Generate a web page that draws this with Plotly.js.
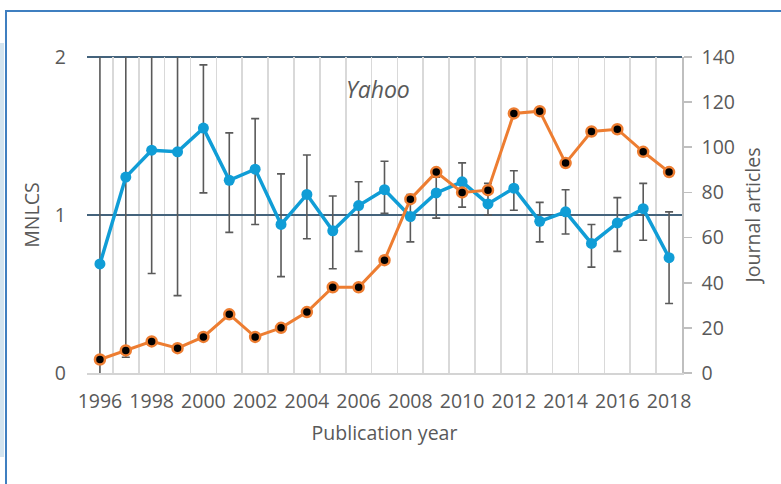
<!DOCTYPE html>
<html>
<head>
<meta charset="utf-8">
<script src="https://cdn.plot.ly/plotly-3.0.1.min.js"></script>
<style>
  html, body { margin: 0; padding: 0; background: #ffffff; overflow: hidden; }
  #wrap { position: relative; width: 781px; height: 484px; }
  #chart { position: absolute; left: 0; top: 0; width: 781px; height: 484px; }
  #strip { position: absolute; left: 0; top: 43px; width: 4px; height: 414px;
           background: #d3e4ef; pointer-events: none; }
  #frame { position: absolute; left: 5px; top: 10px; width: 800px; height: 500px;
           border-left: 2px solid #3f7fc0; border-top: 2px solid #3f7fc0;
           pointer-events: none; }
</style>
</head>
<body>
<div id="wrap">
  <div id="chart"></div>
  <div id="strip"></div>
  <div id="frame"></div>
</div>
<script>
// ---- data ----
const years = [1996, 1997, 1998, 1999, 2000, 2001, 2002, 2003, 2004, 2005, 2006, 2007,
               2008, 2009, 2010, 2011, 2012, 2013, 2014, 2015, 2016, 2017, 2018];
const mnlcs = [0.69, 1.24, 1.41, 1.40, 1.55, 1.22, 1.29, 0.94, 1.13, 0.90, 1.06, 1.16,
               0.99, 1.14, 1.21, 1.07, 1.17, 0.96, 1.02, 0.82, 0.95, 1.04, 0.73];
const ciUpper = [2.6, 2.6, 2.6, 2.6, 1.95, 1.52, 1.61, 1.26, 1.38, 1.12, 1.21, 1.34,
                 1.13, 1.24, 1.33, 1.20, 1.28, 1.08, 1.16, 0.94, 1.11, 1.20, 1.02];
const ciLower = [-0.6, 0.10, 0.63, 0.49, 1.14, 0.89, 0.94, 0.61, 0.85, 0.66, 0.77, 1.01,
                 0.83, 0.98, 1.05, 1.00, 1.03, 0.83, 0.88, 0.67, 0.77, 0.84, 0.44];
const articles = [6, 10, 14, 11, 16, 26, 16, 20, 27, 38, 38, 50,
                  77, 89, 80, 81, 115, 116, 93, 107, 108, 98, 89];
const xTickYears = [1996, 1998, 2000, 2002, 2004, 2006, 2008, 2010, 2012, 2014, 2016, 2018];
const leftTicks = [0, 1, 2];
const rightTicks = [0, 20, 40, 60, 80, 100, 120, 140];
const chartTitle = 'Yahoo';

// ---- derived for the library ----
const errPlus = mnlcs.map((v, i) => ciUpper[i] - v);
const errMinus = mnlcs.map((v, i) => v - ciLower[i]);
const boundaries = years.map(y => y - 0.5).concat([years[years.length - 1] + 0.5]);

const textColor = '#595959';
const fontFam = '"Open Sans", "Noto Sans", sans-serif';
const gridDark = '#44637c';

const traces = [
  {
    x: years, y: mnlcs, type: 'scatter', mode: 'lines+markers', name: 'MNLCS',
    yaxis: 'y',
    line: { color: '#109dd6', width: 3.5 },
    marker: { color: '#109dd6', size: 11 },
    error_y: { type: 'data', symmetric: false, array: errPlus, arrayminus: errMinus,
               color: '#5a5a5a', thickness: 1.6, width: 4 },
    cliponaxis: true
  },
  {
    x: years, y: articles, type: 'scatter', mode: 'lines+markers', name: 'Journal articles',
    yaxis: 'y2',
    line: { color: '#ed7d31', width: 3 },
    marker: { color: '#000000', size: 10, line: { color: '#ed7d31', width: 2.5 } },
    cliponaxis: false
  }
];

const layout = {
  width: 781, height: 484,
  margin: { l: 87, r: 99, t: 57, b: 111 },
  paper_bgcolor: '#ffffff', plot_bgcolor: '#ffffff',
  showlegend: false,
  font: { family: fontFam, color: textColor, size: 19.5 },
  xaxis: {
    range: [1995.5, 2018.5],
    tickmode: 'array', tickvals: xTickYears, ticktext: xTickYears.map(String),
    showgrid: false, zeroline: false,
    showline: true, linecolor: '#d4d4d4', linewidth: 2,
    ticks: '', ticklabelstandoff: 10,
    tickfont: { size: 19.5, color: textColor, family: fontFam },
    minor: { tickmode: 'array', tickvals: boundaries, showgrid: true,
             gridcolor: '#d9d9d9', gridwidth: 1.6, ticks: '' },
    title: { text: 'Publication year', standoff: 13,
             font: { size: 19.5, color: textColor, family: fontFam } }
  },
  yaxis: {
    range: [0, 2], tickmode: 'array', tickvals: leftTicks,
    showgrid: true, gridcolor: gridDark, gridwidth: 1.6,
    zeroline: false, showline: false, ticks: '', ticklabelstandoff: 20,
    tickfont: { size: 19.5, color: textColor, family: fontFam },
    title: { text: 'MNLCS', standoff: 10,
             font: { size: 19.5, color: textColor, family: fontFam } }
  },
  yaxis2: {
    range: [0, 140], tickmode: 'array', tickvals: rightTicks,
    overlaying: 'y', side: 'right', anchor: 'x',
    showgrid: false, zeroline: false,
    showline: true, linecolor: '#bfbfbf', linewidth: 1.6,
    ticks: 'outside', ticklen: 8, tickwidth: 1.6, tickcolor: '#bfbfbf',
    ticklabelstandoff: 6,
    tickfont: { size: 19.5, color: textColor, family: fontFam },
    title: { text: 'Journal articles', standoff: 12,
             font: { size: 19.5, color: textColor, family: fontFam } }
  },
  annotations: [
    { text: '<i>' + chartTitle + '</i>', xref: 'paper', yref: 'paper',
      x: 0.489, y: 0.90, xanchor: 'center', yanchor: 'middle', showarrow: false,
      font: { size: 23, color: textColor, family: fontFam } }
  ],
  shapes: [
    { type: 'line', xref: 'paper', yref: 'paper', layer: 'below',
      x0: 0, x1: 1, y0: 1, y1: 1, line: { color: gridDark, width: 1.8 } }
  ]
};

Plotly.newPlot('chart', traces, layout, { displayModeBar: false, staticPlot: true });
</script>
</body>
</html>
